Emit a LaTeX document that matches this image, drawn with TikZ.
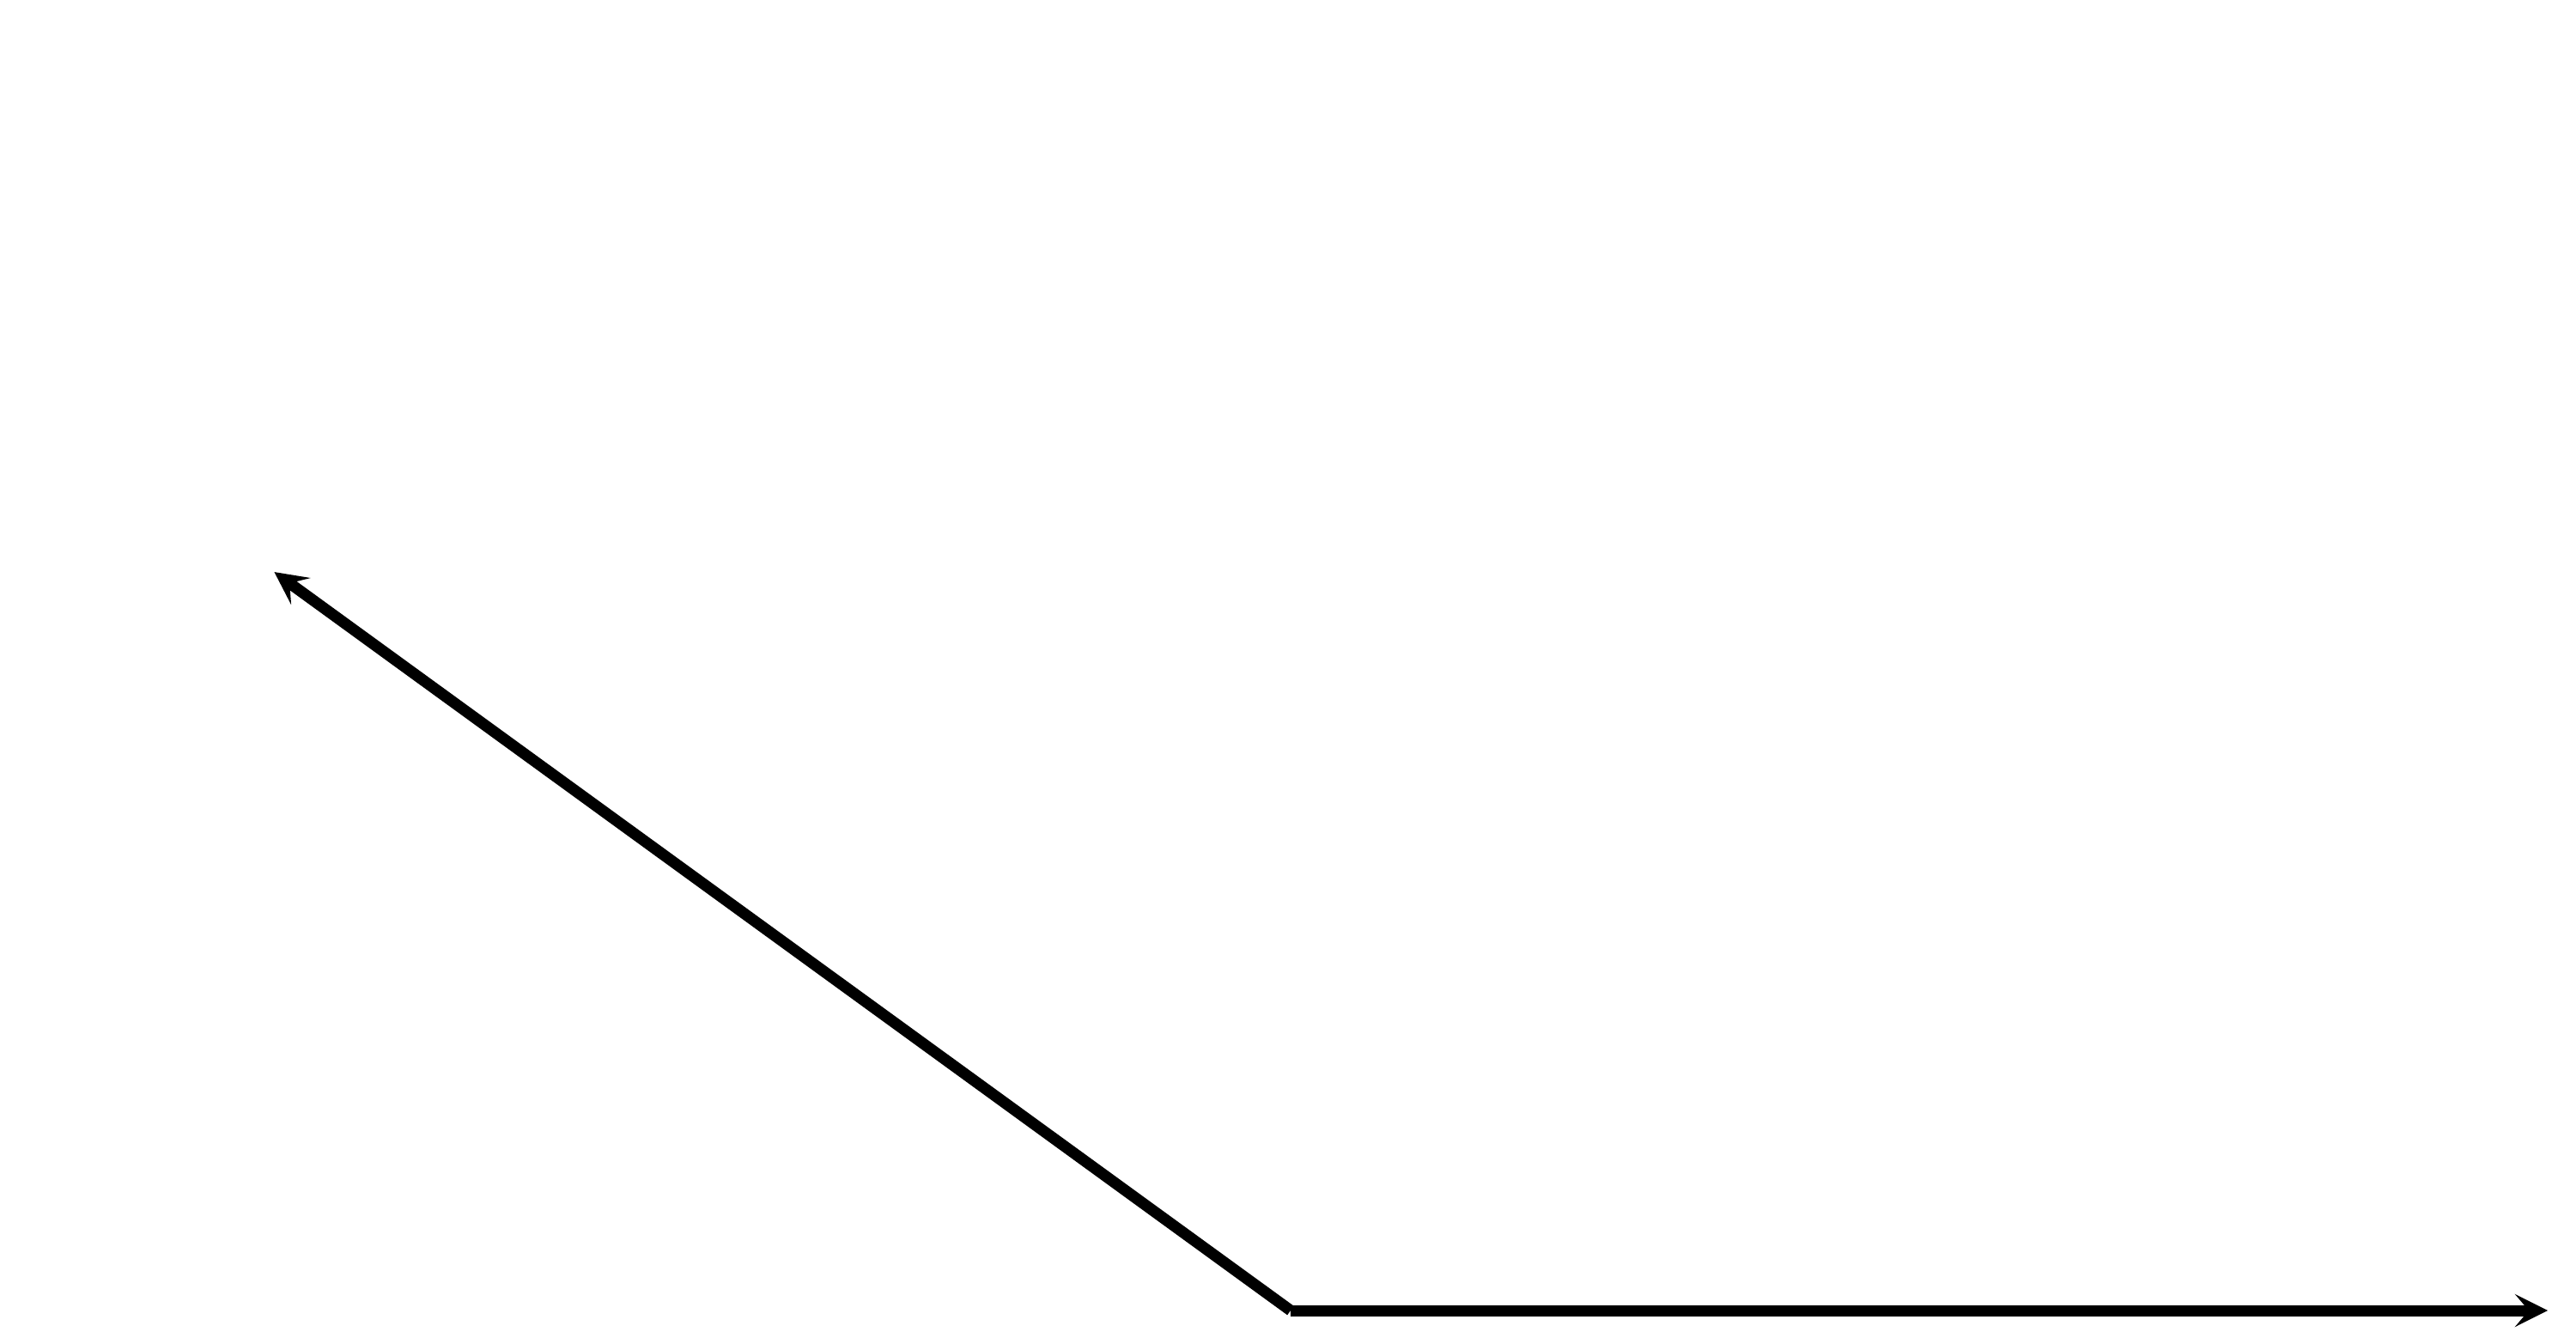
\documentclass[tikz,border=0pt]{standalone}
\usepackage{tikz}
\usetikzlibrary{arrows.meta, calc}
\tikzset{vecline/.style={line width=3.7pt, -{Stealth[length=0.38cm, width=0.38cm, inset=0.16cm]}}}

\begin{document}
\begin{tikzpicture}
  \useasboundingbox (0, 0) rectangle (30, 15.64);

  % Vectors from the common origin
  \coordinate (origin) at (15.03, 0.38);
  \coordinate (tipright) at ($(origin) + (0:14.64)$);
  \coordinate (tipleft) at ($(origin) + (144:14.63)$);

  \draw[vecline] (origin) -- (tipright);
  \draw[vecline] (origin) -- (tipleft);
\end{tikzpicture}
\end{document}
